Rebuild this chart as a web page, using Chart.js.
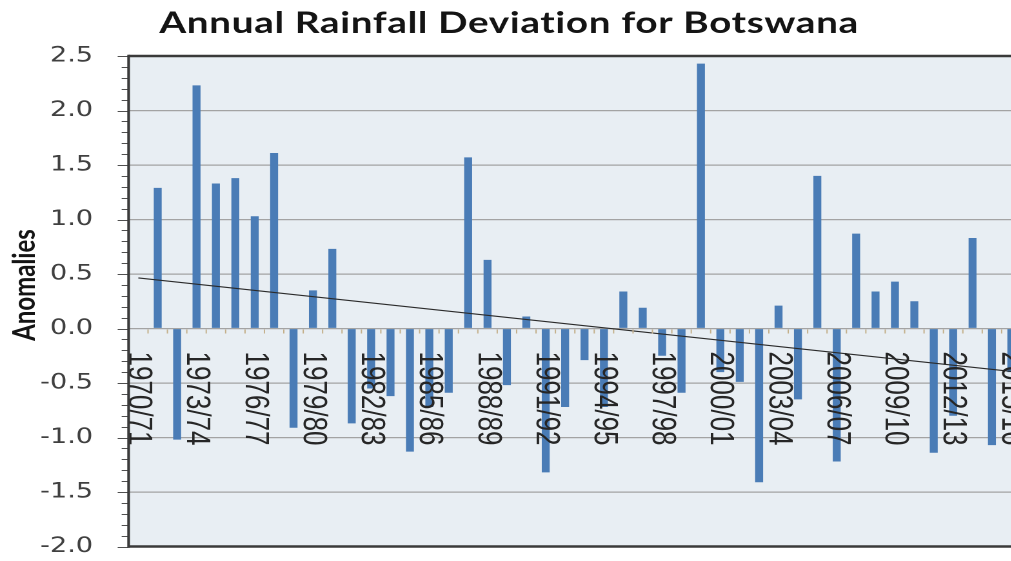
<!DOCTYPE html>
<html>
<head>
<meta charset="utf-8">
<title>Annual Rainfall Deviation for Botswana</title>
<script src="https://cdn.jsdelivr.net/npm/chart.js@4.4.1/dist/chart.umd.min.js"></script>
<style>
  html, body { margin: 0; padding: 0; background: #ffffff; overflow: hidden; width: 1011px; height: 561px; }
  /* the chart is drawn narrow and widened horizontally */
  #wrap { width: 795px; height: 561px; transform: scaleX(1.29); transform-origin: 0 0; }
</style>
</head>
<body>
<div id="wrap"><canvas id="c" width="795" height="561"></canvas></div>
<script>
// Rainfall seasons (July-June)
const seasons = [
  "1970/71", "1971/72", "1972/73", "1973/74", "1974/75", "1975/76", "1976/77", "1977/78", "1978/79", "1979/80",
  "1980/81", "1981/82", "1982/83", "1983/84", "1984/85", "1985/86", "1986/87", "1987/88", "1988/89", "1989/90",
  "1990/91", "1991/92", "1992/93", "1993/94", "1994/95", "1995/96", "1996/97", "1997/98", "1998/99", "1999/00",
  "2000/01", "2001/02", "2002/03", "2003/04", "2004/05", "2005/06", "2006/07", "2007/08", "2008/09", "2009/10",
  "2010/11", "2011/12", "2012/13", "2013/14", "2014/15", "2015/16"
];

// Standardised rainfall anomaly per season (no value for 1970/71)
const anomalies = [
  null, 1.29, -1.02, 2.23, 1.33, 1.38, 1.03, 1.61, -0.91, 0.35,
  0.73, -0.87, -0.55, -0.62, -1.13, -0.72, -0.59, 1.57, 0.63, -0.52,
  0.11, -1.32, -0.72, -0.29, -0.72, 0.34, 0.19, -0.25, -0.59, 2.43,
  -0.40, -0.49, -1.41, 0.21, -0.65, 1.40, -1.22, 0.87, 0.34, 0.43,
  0.25, -1.14, -0.80, 0.83, -1.07, -0.40
];

// Value axis
const yTickMin = -2.0;
const yTickMax = 2.5;
const yTickStep = 0.5;
const yMinorStep = 0.1;
const labelEvery = 3;

const chartTitle = "Annual Rainfall Deviation for Botswana";
const yTitle = "Anomalies";

// Least-squares linear trend through the seasons that have a value
function linearTrend(vals) {
  let n = 0, sx = 0, sy = 0, sxx = 0, sxy = 0;
  vals.forEach((v, k) => {
    if (v === null) return;
    n++; sx += k; sy += v; sxx += k * k; sxy += k * v;
  });
  const b = (n * sxy - sx * sy) / (n * sxx - sx * sx);
  const a = (sy - b * sx) / n;
  return { a, b };
}
const trend = linearTrend(anomalies);
const last = seasons.length - 1;
const trendLine = seasons.map((_, k) => (k === 0 || k === last) ? trend.a + trend.b * k : null);

const plotFrame = {
  id: 'plotFrame',
  beforeDraw(chart) {
    const { ctx, chartArea: a } = chart;
    ctx.save();
    ctx.fillStyle = '#e8eef3';
    ctx.fillRect(a.left, a.top, a.right - a.left, a.bottom - a.top);
    ctx.restore();
  },
  afterDraw(chart) {
    const { ctx, chartArea: a, scales: { x, y } } = chart;
    const y0 = y.getPixelForValue(0);
    ctx.save();

    // tick marks on the zero line between seasons
    ctx.strokeStyle = '#c4b08a';
    ctx.lineWidth = 1;
    for (let k = 0; k < seasons.length; k++) {
      const xb = x.getPixelForValue(k + 0.5);
      ctx.beginPath();
      ctx.moveTo(xb, y0 + 1);
      ctx.lineTo(xb, y0 + 5);
      ctx.stroke();
    }

    // season labels, reading downwards
    ctx.fillStyle = '#262626';
    ctx.font = '26px "Liberation Sans", Arial, sans-serif';
    ctx.textAlign = 'left';
    ctx.textBaseline = 'middle';
    seasons.forEach((s, k) => {
      if (k % labelEvery !== 0) return;
      ctx.save();
      ctx.translate(x.getPixelForValue(k), y0 + 23);
      ctx.rotate(Math.PI / 2);
      ctx.fillText(s, 0, 0);
      ctx.restore();
    });

    // major and minor ticks on the value axis
    ctx.strokeStyle = '#505050';
    ctx.lineWidth = 1;
    const perMajor = Math.round(yTickStep / yMinorStep);
    for (let i = Math.round(yTickMin / yMinorStep); i <= Math.round(yTickMax / yMinorStep); i++) {
      const py = Math.round(y.getPixelForValue(i * yMinorStep)) + 0.5;
      const len = (i % perMajor === 0) ? 8.5 : 5.4;
      ctx.beginPath();
      ctx.moveTo(a.left - len, py);
      ctx.lineTo(a.left, py);
      ctx.stroke();
    }

    // plot border
    ctx.strokeStyle = '#3a3a3a';
    ctx.lineWidth = 2.6;
    ctx.beginPath();
    ctx.moveTo(a.left, a.top); ctx.lineTo(a.right, a.top);
    ctx.moveTo(a.left, a.bottom); ctx.lineTo(a.right, a.bottom);
    ctx.stroke();
    ctx.lineWidth = 2.1;
    ctx.beginPath();
    ctx.moveTo(a.left, a.top - 1.3); ctx.lineTo(a.left, a.bottom + 1.3);
    ctx.moveTo(a.right, a.top - 1.3); ctx.lineTo(a.right, a.bottom + 1.3);
    ctx.stroke();

    // chart title
    ctx.fillStyle = '#141414';
    ctx.font = 'bold 30px Lato, "Open Sans", sans-serif';
    ctx.letterSpacing = '0.5px';
    ctx.textAlign = 'center';
    ctx.textBaseline = 'alphabetic';
    ctx.fillText(chartTitle, 394.6, 33);
    ctx.letterSpacing = '0px';

    // value axis title
    ctx.save();
    ctx.translate(19.4, 285);
    ctx.rotate(-Math.PI / 2);
    ctx.font = 'bold 24px Lato, "Open Sans", sans-serif';
    ctx.textAlign = 'center';
    ctx.textBaseline = 'middle';
    ctx.fillText(yTitle, 0, 0);
    ctx.restore();

    ctx.restore();
  }
};

new Chart(document.getElementById('c'), {
  type: 'bar',
  data: {
    labels: seasons,
    datasets: [
      {
        type: 'line',
        label: 'Trend',
        data: trendLine,
        spanGaps: true,
        borderColor: '#2b2b2b',
        borderWidth: 1.2,
        pointRadius: 0,
        order: 0
      },
      {
        type: 'bar',
        label: 'Anomaly',
        data: anomalies,
        backgroundColor: '#4a7cb6',
        barPercentage: 0.41,
        categoryPercentage: 1.0,
        order: 1
      }
    ]
  },
  options: {
    responsive: false,
    animation: false,
    devicePixelRatio: 2,
    layout: { padding: { top: 56, bottom: 14.5, left: 0, right: 3.5 } },
    plugins: {
      legend: { display: false },
      tooltip: { enabled: false },
      title: { display: false }
    },
    scales: {
      x: {
        type: 'category',
        display: false,
        offset: true
      },
      y: {
        min: yTickMin,
        max: yTickMax,
        border: { display: false },
        grid: { color: '#a3a3a3', lineWidth: 1.3, drawTicks: false },
        ticks: {
          stepSize: yTickStep,
          padding: 27.6,
          color: '#404040',
          font: { family: '"DejaVu Sans", Verdana, sans-serif', size: 21 },
          callback: (v) => Number(v).toFixed(1)
        },
        afterFit(scale) {
          scale.width = 99.7;
          scale.paddingTop = 0;
          scale.paddingBottom = 0;
        }
      }
    }
  },
  plugins: [plotFrame]
});
</script>
</body>
</html>
